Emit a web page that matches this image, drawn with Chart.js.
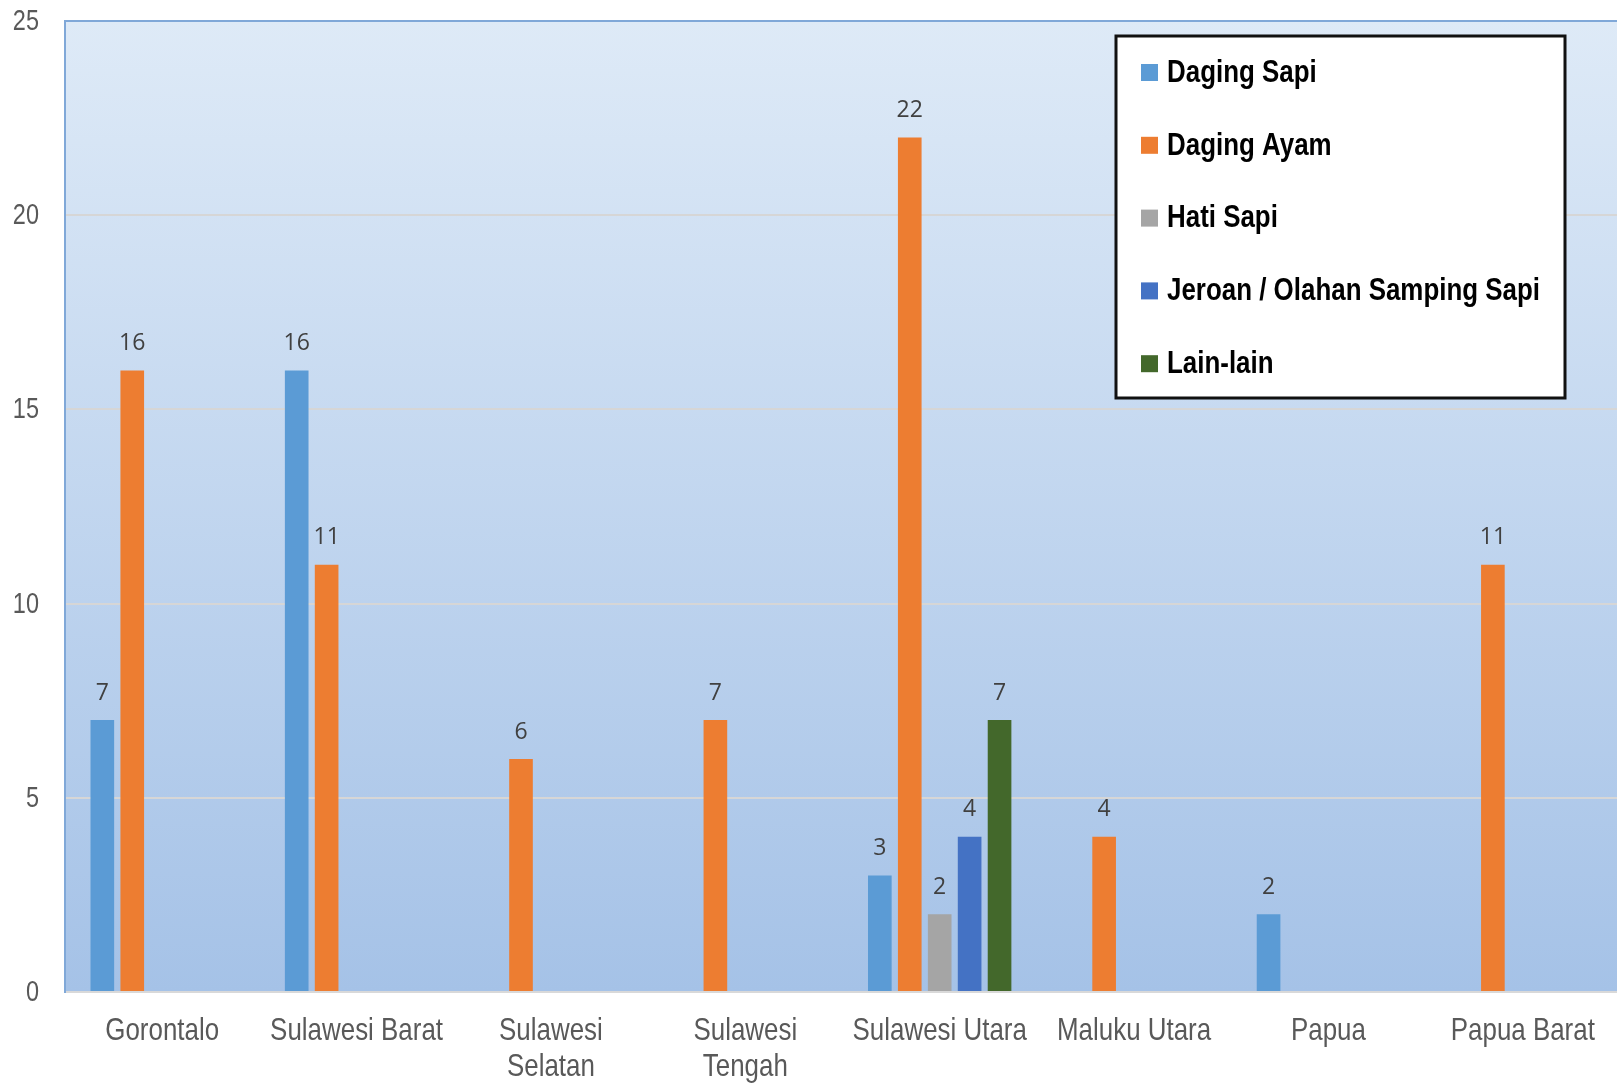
<!DOCTYPE html>
<html>
<head>
<meta charset="utf-8">
<script src="https://cdn.jsdelivr.net/npm/chart.js@4/dist/chart.umd.min.js"></script>
<style>
  html, body { margin: 0; padding: 0; background: #ffffff; overflow: hidden; }
  #wrap { width: 1620px; height: 1084px; position: relative; }
</style>
</head>
<body>
<div id="wrap"><canvas id="chart"></canvas></div>
<script>
// Categories (provinces)
const provinces = [
  'Gorontalo', 'Sulawesi Barat', ['Sulawesi', 'Selatan'], ['Sulawesi', 'Tengah'],
  'Sulawesi Utara', 'Maluku Utara', 'Papua', 'Papua Barat'
];

// Series values (null = no bar)
const dagingSapi = [7, 16, null, null, 3, null, 2, null];
const dagingAyam = [16, 11, 6, 7, 22, 4, null, 11];
const hatiSapi = [null, null, null, null, 2, null, null, null];
const jeroan = [null, null, null, null, 4, null, null, null];
const lainLain = [null, null, null, null, 7, null, null, null];

const seriesNames = ['Daging Sapi', 'Daging Ayam', 'Hati Sapi', 'Jeroan / Olahan Samping Sapi', 'Lain-lain'];
const yTicks = [0, 5, 10, 15, 20, 25];

const colors = ['#5b9bd5', '#ed7d31', '#a5a5a5', '#4472c4', '#43682b'];
const FONT = "'Liberation Sans', Arial, sans-serif";
const NARROW = 0.81; // horizontal squeeze to mimic a narrow face

// draws text squeezed horizontally, anchored at x
function narrowText(ctx, text, x, y) {
  ctx.save();
  ctx.translate(x, y);
  ctx.scale(NARROW, 1);
  ctx.fillText(text, 0, 0);
  ctx.restore();
}

// Plot area gradient
const plotBackground = {
  id: 'plotBackground',
  beforeDraw(chart) {
    const { ctx, chartArea: a } = chart;
    const g = ctx.createLinearGradient(0, a.top, 0, a.bottom);
    g.addColorStop(0, '#deeaf7');
    g.addColorStop(1, '#a5c2e7');
    ctx.save();
    ctx.fillStyle = g;
    ctx.fillRect(a.left, a.top, a.right - a.left, a.bottom - a.top);
    ctx.restore();
  }
};

// Axis tick labels (narrow style), positioned from the chart scales
const axisLabels = {
  id: 'axisLabels',
  afterDraw(chart) {
    const { ctx } = chart;
    const xs = chart.scales.x, ys = chart.scales.y;
    ctx.save();
    ctx.fillStyle = '#595959';

    ctx.font = '29px ' + FONT;
    ctx.textAlign = 'right';
    ctx.textBaseline = 'middle';
    ys.ticks.forEach(t => {
      narrowText(ctx, String(t.value), 39, ys.getPixelForValue(t.value) + 1);
    });

    ctx.font = '32px ' + FONT;
    ctx.textAlign = 'center';
    chart.data.labels.forEach((lab, i) => {
      const lines = Array.isArray(lab) ? lab : [lab];
      const cx = xs.getPixelForValue(i);
      lines.forEach((ln, k) => {
        narrowText(ctx, ln, cx, xs.top + 39 + k * 36);
      });
    });
    ctx.restore();
  }
};

// Value labels above bars
const barLabels = {
  id: 'barLabels',
  afterDatasetsDraw(chart) {
    const { ctx } = chart;
    ctx.save();
    ctx.font = "23px 'Open Sans', 'Noto Sans', sans-serif";
    ctx.fillStyle = '#404040';
    ctx.textAlign = 'center';
    ctx.textBaseline = 'middle';
    chart.data.datasets.forEach((ds, i) => {
      const meta = chart.getDatasetMeta(i);
      meta.data.forEach((bar, j) => {
        const v = ds.data[j];
        if (v == null) return;
        ctx.fillText(String(v), bar.x, bar.y - 27);
      });
    });
    ctx.restore();
  }
};

// Boxed legend inside the plot, upper right
const boxLegend = {
  id: 'boxLegend',
  afterDraw(chart) {
    const { ctx } = chart;
    const x = 1116, y = 36, w = 449, h = 362;
    ctx.save();
    ctx.fillStyle = '#ffffff';
    ctx.fillRect(x, y, w, h);
    ctx.lineWidth = 3;
    ctx.strokeStyle = '#111111';
    ctx.strokeRect(x, y, w, h);
    ctx.font = 'bold 32px ' + FONT;
    ctx.textBaseline = 'middle';
    ctx.textAlign = 'left';
    chart.data.datasets.forEach((ds, i) => {
      const cy = 72 + i * 72.8;
      ctx.fillStyle = ds.backgroundColor;
      ctx.fillRect(1141, cy - 8, 17, 17);
      ctx.fillStyle = '#000000';
      narrowText(ctx, ds.label, 1167, cy + 1);
    });
    ctx.restore();
  }
};

const seriesData = [dagingSapi, dagingAyam, hatiSapi, jeroan, lainLain];

new Chart(document.getElementById('chart'), {
  type: 'bar',
  data: {
    labels: provinces,
    datasets: seriesData.map((d, i) => ({
      label: seriesNames[i],
      data: d,
      backgroundColor: colors[i],
      borderWidth: 0,
      categoryPercentage: 0.77,
      barPercentage: 0.79
    }))
  },
  options: {
    responsive: true,
    maintainAspectRatio: false,
    animation: false,
    layout: { padding: { top: 21, right: 0, left: 0, bottom: 0 } },
    plugins: {
      legend: { display: false },
      tooltip: { enabled: false }
    },
    scales: {
      x: {
        grid: { display: false, drawTicks: false },
        border: { display: true, color: '#d9d9d9', width: 2 },
        ticks: { display: false },
        afterFit(scale) { scale.height = 92; }
      },
      y: {
        min: 0,
        max: 25,
        afterBuildTicks(scale) { scale.ticks = yTicks.map(v => ({ value: v })); },
        grid: {
          drawTicks: false,
          lineWidth: 2,
          color: c => (c.tick && c.tick.value === 25 ? '#80a8d8' : (c.tick && c.tick.value === 0 ? 'rgba(0,0,0,0)' : '#d6d6d6'))
        },
        border: { display: true, color: '#80a8d8', width: 2 },
        ticks: { display: false },
        afterFit(scale) { scale.width = 65; }
      }
    }
  },
  plugins: [plotBackground, barLabels, axisLabels, boxLegend]
});
</script>
</body>
</html>
